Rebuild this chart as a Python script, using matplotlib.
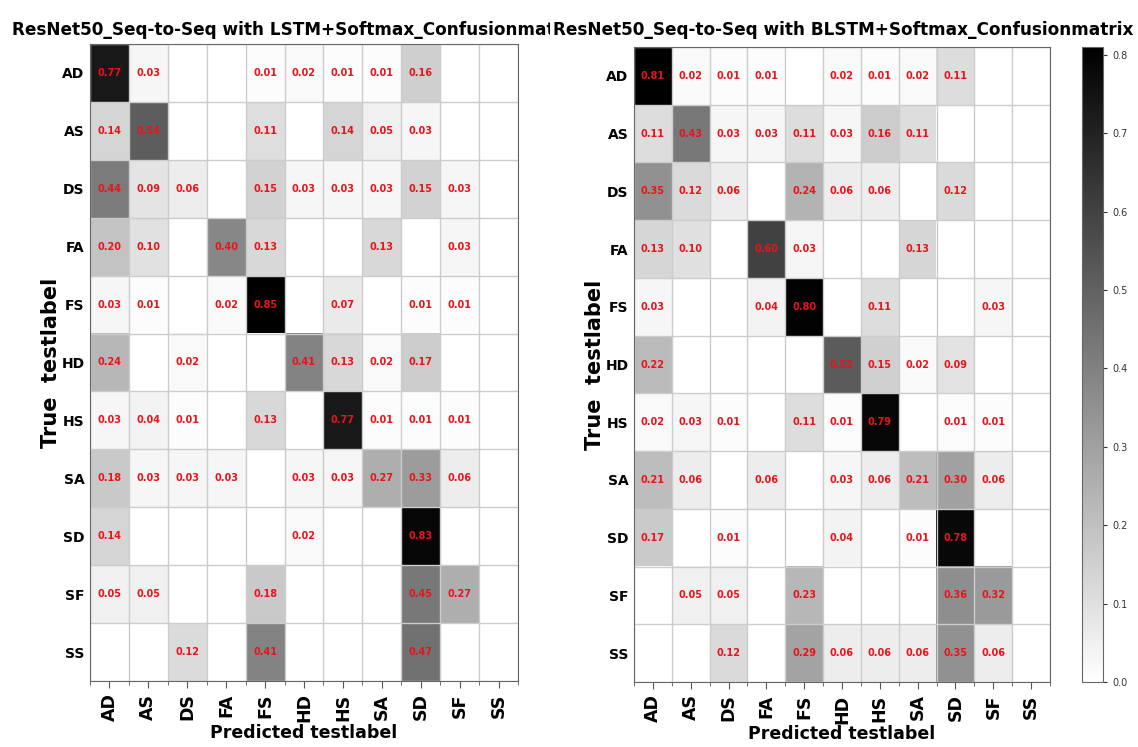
import matplotlib
matplotlib.use('Agg')
import matplotlib.pyplot as plt
import numpy as np

# class labels (rows = true, cols = predicted)
classes = ['AD', 'AS', 'DS', 'FA', 'FS', 'HD', 'HS', 'SA', 'SD', 'SF', 'SS']

# LSTM+Softmax confusion matrix (normalised per row)
lstm_cm = [
    [0.77, 0.03, 0.00, 0.00, 0.01, 0.02, 0.01, 0.01, 0.16, 0.00, 0.00],
    [0.14, 0.54, 0.00, 0.00, 0.11, 0.00, 0.14, 0.05, 0.03, 0.00, 0.00],
    [0.44, 0.09, 0.06, 0.00, 0.15, 0.03, 0.03, 0.03, 0.15, 0.03, 0.00],
    [0.20, 0.10, 0.00, 0.40, 0.13, 0.00, 0.00, 0.13, 0.00, 0.03, 0.00],
    [0.03, 0.01, 0.00, 0.02, 0.85, 0.00, 0.07, 0.00, 0.01, 0.01, 0.00],
    [0.24, 0.00, 0.02, 0.00, 0.00, 0.41, 0.13, 0.02, 0.17, 0.00, 0.00],
    [0.03, 0.04, 0.01, 0.00, 0.13, 0.00, 0.77, 0.01, 0.01, 0.01, 0.00],
    [0.18, 0.03, 0.03, 0.03, 0.00, 0.03, 0.03, 0.27, 0.33, 0.06, 0.00],
    [0.14, 0.00, 0.00, 0.00, 0.00, 0.02, 0.00, 0.00, 0.83, 0.00, 0.00],
    [0.05, 0.05, 0.00, 0.00, 0.18, 0.00, 0.00, 0.00, 0.45, 0.27, 0.00],
    [0.00, 0.00, 0.12, 0.00, 0.41, 0.00, 0.00, 0.00, 0.47, 0.00, 0.00],
]

# BLSTM+Softmax confusion matrix
blstm_cm = [
    [0.81, 0.02, 0.01, 0.01, 0.00, 0.02, 0.01, 0.02, 0.11, 0.00, 0.00],
    [0.11, 0.43, 0.03, 0.03, 0.11, 0.03, 0.16, 0.11, 0.00, 0.00, 0.00],
    [0.35, 0.12, 0.06, 0.00, 0.24, 0.06, 0.06, 0.00, 0.12, 0.00, 0.00],
    [0.13, 0.10, 0.00, 0.60, 0.03, 0.00, 0.00, 0.13, 0.00, 0.00, 0.00],
    [0.03, 0.00, 0.00, 0.04, 0.80, 0.00, 0.11, 0.00, 0.00, 0.03, 0.00],
    [0.22, 0.00, 0.00, 0.00, 0.00, 0.52, 0.15, 0.02, 0.09, 0.00, 0.00],
    [0.02, 0.03, 0.01, 0.00, 0.11, 0.01, 0.79, 0.00, 0.01, 0.01, 0.00],
    [0.21, 0.06, 0.00, 0.06, 0.00, 0.03, 0.06, 0.21, 0.30, 0.06, 0.00],
    [0.17, 0.00, 0.01, 0.00, 0.00, 0.04, 0.00, 0.01, 0.78, 0.00, 0.00],
    [0.00, 0.05, 0.05, 0.00, 0.23, 0.00, 0.00, 0.00, 0.36, 0.32, 0.00],
    [0.00, 0.00, 0.12, 0.00, 0.29, 0.06, 0.06, 0.06, 0.35, 0.06, 0.00],
]

titles = ['ResNet50_Seq-to-Seq with LSTM+Softmax_Confusionmatrix',
          'ResNet50_Seq-to-Seq with BLSTM+Softmax_Confusionmatrix']

W, H = 1138, 747
fig = plt.figure(figsize=(W / 100, H / 100), dpi=100)

def px(l, t, r, b):
    return [l / W, 1 - b / H, (r - l) / W, (b - t) / H]

def draw_cm(ax, cm, ylab_x):
    cm = np.array(cm)
    im = ax.imshow(cm, cmap='gray_r', vmin=0, vmax=cm.max(), aspect='auto')
    n = len(classes)
    for i in range(n):
        for j in range(n):
            if cm[i, j] > 0:
                ax.text(j, i, '%.2f' % cm[i, j], ha='center', va='center',
                        color='#e8141c', fontsize=7, fontweight='bold')
    ax.set_xticks(np.arange(n))
    ax.set_yticks(np.arange(n))
    ax.set_xticklabels(classes, rotation=90, fontsize=12.5, fontweight='bold')
    ax.set_yticklabels(classes, fontsize=10, fontweight='bold')
    ax.set_xticks(np.arange(n + 1) - 0.5, minor=True)
    ax.set_yticks(np.arange(n + 1) - 0.5, minor=True)
    ax.grid(which='minor', color='#cccccc', linewidth=1)
    ax.tick_params(which='minor', bottom=True, left=False, length=3, color='#555555')
    ax.tick_params(axis='x', which='major', length=5, color='#555555', pad=4)
    ax.tick_params(axis='y', which='major', length=0, pad=4)
    for s in ax.spines.values():
        s.set_color('#666666')
    ax.set_xlabel('Predicted testlabel', fontsize=12.5, fontweight='bold')
    ax.xaxis.set_label_coords(0.5, -0.068)
    ax.set_ylabel('True  testlabel', fontsize=15, fontweight='bold')
    ax.yaxis.set_label_coords(ylab_x, 0.5)
    return im

ax1 = fig.add_axes(px(90, 44, 518, 681))
ax2 = fig.add_axes(px(634, 47, 1050, 682))
cax = fig.add_axes(px(1082, 47, 1103, 682))

draw_cm(ax1, lstm_cm, -0.067)
im2 = draw_cm(ax2, blstm_cm, -0.070)

cb = fig.colorbar(im2, cax=cax, ticks=np.arange(0, 0.81, 0.1))
cb.ax.tick_params(labelsize=7, length=3, colors='#333333')
cb.outline.set_edgecolor('#666666')

# titles: the left one is cut off by the right one
fig.text(12 / W, 1 - 30 / H, titles[0], ha='left', va='center',
         fontsize=12.2, fontweight='bold')
fig.text(843 / W, 1 - 30 / H, titles[1], ha='center', va='center',
         fontsize=12.2, fontweight='bold',
         bbox=dict(facecolor='white', edgecolor='none', pad=2))

fig.savefig('out.png', dpi=100)
